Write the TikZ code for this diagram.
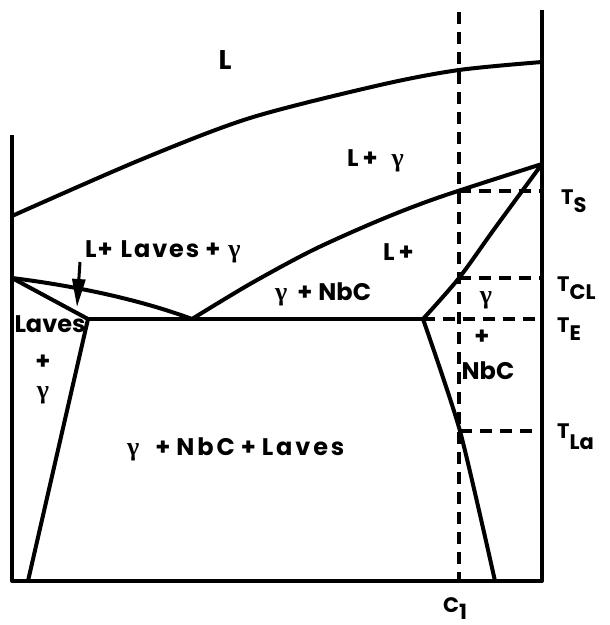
\documentclass[tikz,border=0pt]{standalone}
\usepackage{fontspec}
\usetikzlibrary{arrows.meta}
\newfontfamily\lab{Poppins}
\newfontfamily\gk{Liberation Serif}
\newcommand\gam{{\gk\fontsize{26}{26}\selectfont γ}}
\newcommand\gap[1]{\hspace{#1pt}}
\begin{document}
\begin{tikzpicture}[x=1pt,y=-1pt, line join=round,
  phase/.style={line width=4pt},
  guide/.style={line width=3.2pt, dash pattern=on 12pt off 8pt},
  lbl/.style={font=\lab\bfseries\fontsize{24}{24}\selectfont, inner sep=0pt},
  wlbl/.style={lbl, anchor=base west},
  tlbl/.style={font=\lab\bfseries\fontsize{21}{21}\selectfont, inner sep=0pt, anchor=north west}]
\useasboundingbox (0,0) rectangle (610,625);
% corner points
\coordinate (lt) at (12,135);
\coordinate (lb) at (12,581);
\coordinate (rt) at (542,10);
\coordinate (rb) at (542,581);
\coordinate (L0) at (12,278);
\coordinate (E1) at (88,319);
\coordinate (E2) at (192,319);
\coordinate (E3) at (423,319);
\coordinate (P) at (542,164);
\coordinate (S1) at (28,581);
\coordinate (S2) at (495,581);
\coordinate (ts) at (459,191);
\coordinate (tcl) at (459,278);
\coordinate (tla) at (460,431);
\coordinate (c1t) at (459,12);
\coordinate (c1b) at (459,581);
% axes
\draw[phase] (lt) -- (lb) -- (rb) -- (rt);
% liquidus
\draw[phase] plot[smooth] coordinates {(12,216) (140,160) (250,118) (380,85) (459,70) (542,62)};
% eutectic line
\draw[phase] (E1) -- (E3);
% left region
\draw[phase] (L0) -- (E1);
\draw[phase] (L0) .. controls (60,284) and (130,296) .. (E2);
\draw[phase] (E1) -- (S1);
% gamma liquidus / solidus
\draw[phase] plot[smooth] coordinates {(192,319) (250,284) (313,250) (380,220) (440,197) (542,164)};
\draw[phase] plot[smooth] coordinates {(542,164) (495,228) (459,278) (423,319)};
\draw[phase] plot[smooth, tension=0.4] coordinates {(423,319) (460,431) (495,581)};
% dashed guides
\draw[guide] (c1t) -- (c1b);
\draw[guide] (ts) -- (ts -| rb);
\draw[guide] (tcl) -- (tcl -| rb);
\draw[guide] (E3) -- (E3 -| rb);
\draw[guide] (tla) -- (tla -| rb);
% arrow
\coordinate (a0) at (80,262);
\coordinate (a1) at (77,307);
\draw[line width=3pt, -{Triangle[length=28pt,width=13pt]}] (a0) -- (a1);
% labels
\node[lbl, font=\lab\bfseries\fontsize{27}{27}\selectfont] (tL) at (225,60) {L};
\node[wlbl] (tLg) at (347,166) {L\gap{4}+\gap{14}\gam};
\node[wlbl] (tLLg) at (85,257) {\addfontfeature{LetterSpace=8}L\gap{1}+\gap{8}Laves\gap{6}+\gap{8}\gam};
\node[wlbl] (tLp) at (383,260) {L\gap{4}+};
\node[wlbl] (tgN) at (275,300) {\gam\gap{10}+\gap{6}NbC};
\node[lbl] (tLa) at (50,324) {Laves};
\node[lbl] (tLp2) at (43,362) {+};
\node[lbl] (tLg2) at (43,395) {\gam};
\node[lbl] (tg3) at (486,300) {\gam};
\node[lbl] (tp3) at (482,337) {+};
\node[lbl] (tN3) at (488,371) {NbC};
\node[wlbl] (tbig) at (127,455) {\addfontfeature{LetterSpace=12}\gam\gap{16}+\gap{6}NbC\gap{6}+\gap{6}Laves};
\node[tlbl] (TS) at (561,190) {T\raisebox{-8pt}{S}};
\node[tlbl] (TCL) at (557,277) {T\raisebox{-8pt}{CL}};
\node[tlbl] (TE) at (557,318) {T\raisebox{-8pt}{E}};
\node[tlbl] (TLa) at (557,424) {T\raisebox{-11pt}{La}};
\node[tlbl] (C1) at (443,597) {C\raisebox{-7pt}{1}};
\end{tikzpicture}
\end{document}
